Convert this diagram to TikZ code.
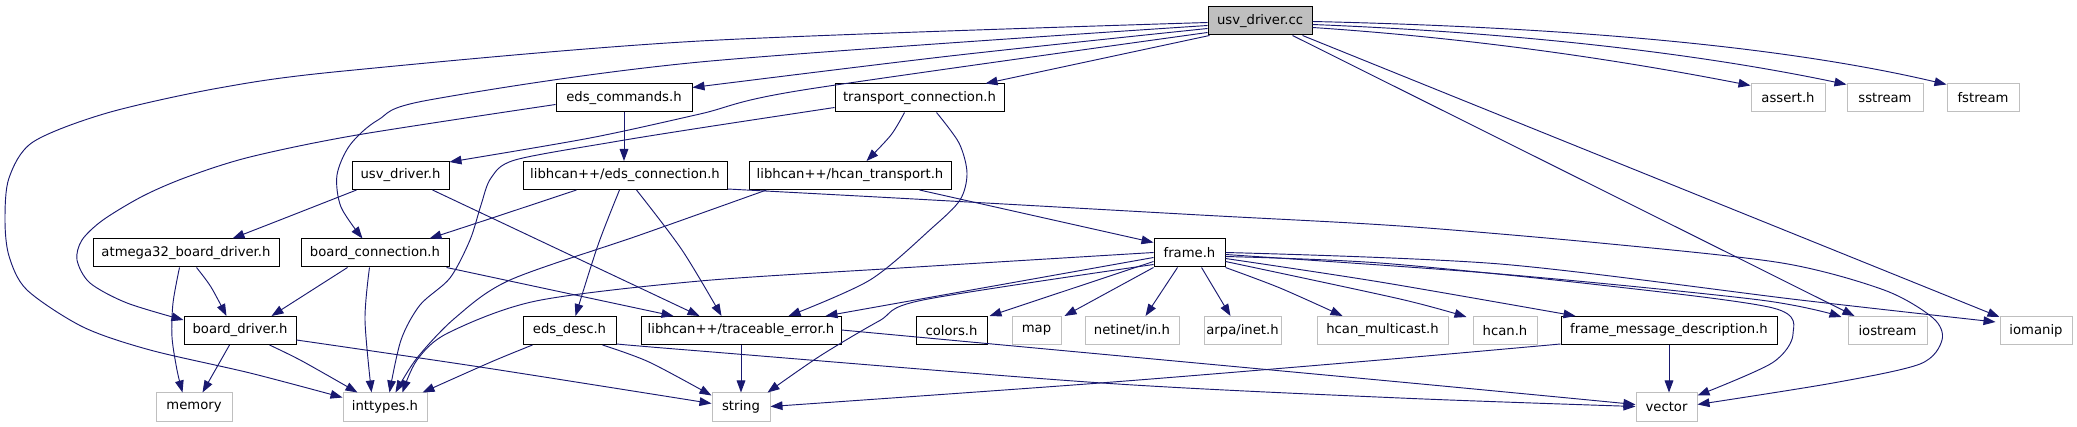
\documentclass[tikz,border=0pt]{standalone}
\usepackage{fontspec}
\setmainfont{DejaVu Sans}
\usetikzlibrary{arrows.meta,calc}
\definecolor{edgecol}{HTML}{191970}
\definecolor{graybox}{HTML}{BFBFBF}
\begin{document}
\begin{tikzpicture}[x=0.75pt,y=-0.75pt,
  box/.style={rectangle, inner sep=0pt, minimum height=21pt, line width=0.75pt,
     font=\fontsize{9.9pt}{12pt}\selectfont},
  doc/.style={box, draw=black},
  ext/.style={box, draw=graybox},
  bw/.style={minimum width=#1*0.75pt},
  dep/.style={draw=edgecol, line width=0.7pt, -{Triangle[length=9pt,width=6.5pt]}}]
\useasboundingbox[fill=white] (0,0) rectangle (2077,427);
% row 1
\node[doc, fill=graybox, bw=104] (usvcc) at (1260,21) {usv\_driver.cc};
% row 2
\node[doc, bw=136] (edscmd) at (624,98) {eds\_commands.h};
\node[doc, bw=169] (transp) at (919.5,98) {transport\_connection.h};
\node[ext, bw=74] (assert) at (1788,98) {assert.h};
\node[ext, bw=76] (sstream) at (1885,98) {sstream};
\node[ext, bw=72] (fstream) at (1983,98) {fstream};
% row 3
\node[doc, bw=97] (usvh) at (400.5,175.5) {usv\_driver.h};
\node[doc, bw=204] (edsconn) at (625,175.5) {libhcan++/eds\_connection.h};
\node[doc, bw=202] (hcantr) at (850,175.5) {libhcan++/hcan\_transport.h};
% row 4
\node[doc, bw=186] (atmega) at (186,253) {atmega32\_board\_driver.h};
\node[doc, bw=148] (boardconn) at (375,253) {board\_connection.h};
\node[doc, bw=71] (frame) at (1189.5,253) {frame.h};
% row 5
\node[doc, bw=112] (boarddrv) at (240,330.5) {board\_driver.h};
\node[doc, bw=93] (edsdesc) at (569.5,330.5) {eds\_desc.h};
\node[doc, bw=200] (trace) at (741,330.5) {libhcan++/traceable\_error.h};
\node[doc, bw=71] (colors) at (951.5,330.5) {colors.h};
\node[ext, bw=49] (map) at (1036.5,330.5) {map};
\node[ext, bw=94] (netinet) at (1132,330.5) {netinet/in.h};
\node[ext, bw=77] (arpa) at (1242.5,330.5) {arpa/inet.h};
\node[ext, bw=131] (mcast) at (1382.5,330.5) {hcan\_multicast.h};
\node[ext, bw=64] (hcan) at (1505,330.5) {hcan.h};
\node[doc, bw=216] (fmd) at (1669,330.5) {frame\_message\_description.h};
\node[ext, bw=79] (iostream) at (1887.5,330.5) {iostream};
\node[ext, bw=72] (iomanip) at (2036,330.5) {iomanip};
% row 6
\node[ext, bw=76] (memory) at (194,407) {memory};
\node[ext, bw=84] (inttypes) at (385,407) {inttypes.h};
\node[ext, bw=58] (string) at (741,407) {string};
\node[ext, bw=61] (vector) at (1666.5,407) {vector};

% edges from usv_driver.cc
\draw[dep] plot[smooth] coordinates {($(usvcc.north west)+(0,16)$) (700,41) (344,71) (219,88) (107,113) (33,142) (9,178) (5,220) (9,256) (27,290) (83,327) (150,350) (250,373) ($(inttypes.north west)+(0,5)$)};
\draw[dep] plot[smooth] coordinates {($(usvcc.north west)+(0,19)$) (700,62) (429,100) (378,120) (350,145) (337,175) (341,207) ($(boardconn.north west)+(62,0)$)};
\draw[dep] plot[smooth] coordinates {($(usvcc.north west)+(0,22)$) (950,56) ($(edscmd.north east)+(0,4)$)};
\draw[dep] plot[smooth] coordinates {($(usvcc.north west)+(0,26)$) (803,90) (700,114) (590,138) ($(usvh.north east)+(0,1)$)};
\draw[dep] ($(usvcc.south west)+(2,0)$) -- ($(transp.north east)+(-19,0)$);
\draw[dep] ($(usvcc.north east)+(0,15)$) .. controls (1600,28) and (1800,50) .. ($(fstream.north west)+(0,1)$);
\draw[dep] ($(usvcc.north east)+(0,18)$) .. controls (1550,34) and (1720,58) .. ($(sstream.north west)+(0,1)$);
\draw[dep] ($(usvcc.north east)+(0,21)$) .. controls (1500,40) and (1650,66) .. ($(assert.north west)+(0,2)$);
\draw[dep] ($(usvcc.south east)+(-20,0)$) -- ($(iostream.north west)+(7,0)$);
\draw[dep] ($(usvcc.south east)+(-10,0)$) -- ($(iomanip.north west)+(0,1)$);

% eds_commands.h
\draw[dep] plot[smooth] coordinates {($(edscmd.north west)+(0,21)$) (357,135) (250,157) (187,177) (143,196) (103,220) (82,240) (77,260) (90,283) (127,303) ($(boarddrv.north west)+(0,4)$)};
\draw[dep] (edscmd.south) -- (edscmd.south |- edsconn.north);

% transport_connection.h
\draw[dep] plot[smooth] coordinates {($(transp.south west)+(70,0)$) (891,135) ($(hcantr.north west)+(118,0)$)};
\draw[dep] plot[smooth] coordinates {($(transp.south west)+(102,0)$) (959,143) (967,173) (960,200) (932,228) (870,280) ($(trace.north west)+(148,0)$)};
\draw[dep] plot[smooth] coordinates {($(transp.north west)+(0,24)$) (700,128) (613,142) (515,160) (491,178) (481,205) (470,240) (450,278) (420,305) (401,340) ($(inttypes.north west)+(47,0)$)};

% usv_driver.h
\draw[dep] plot[smooth] coordinates {($(usvh.south west)+(5,0)$) (280,220) ($(atmega.north east)+(-47,0)$)};
\draw[dep] ($(usvh.south west)+(81,0)$) -- ($(trace.north west)+(59,0)$);

% libhcan++/eds_connection.h
\draw[dep] plot[smooth] coordinates {($(edsconn.south west)+(54,0)$) (480,222) ($(boardconn.north east)+(-20,0)$)};
\draw[dep] plot[smooth] coordinates {($(edsconn.south west)+(97,0)$) (598,245) ($(edsdesc.north west)+(53,0)$)};
\draw[dep] plot[smooth] coordinates {($(edsconn.south west)+(114,0)$) (682,250) ($(trace.north west)+(81,0)$)};
\draw[dep] plot[smooth] coordinates {($(edsconn.south east)+(0,-1)$) (914,199) (1200,215) (1400,226) (1600,243) (1782,263) (1884,290) (1933,318) (1942,340) (1920,364) (1833,383) ($(vector.south east)+(0,-17)$)};

% libhcan++/hcan_transport.h
\draw[dep] plot[smooth] coordinates {($(hcantr.south west)+(18,0)$) (640,235) (510,280) (455,318) (417,358) ($(inttypes.north west)+(53,0)$)};
\draw[dep] ($(hcantr.south east)+(-32,0)$) -- ($(frame.north west)+(0,4)$);

% atmega32_board_driver.h
\draw[dep] plot[smooth] coordinates {($(atmega.south west)+(87,0)$) (173,303) (172,337) (177,370) ($(memory.north west)+(27,0)$)};
\draw[dep] plot[smooth] coordinates {($(atmega.south west)+(104,0)$) (211,287) ($(boarddrv.north west)+(43,0)$)};

% board_connection.h
\draw[dep] ($(boardconn.south west)+(47,0)$) -- ($(boarddrv.north west)+(88,0)$);
\draw[dep] plot[smooth] coordinates {($(boardconn.south west)+(69,0)$) (365,320) ($(inttypes.north west)+(29,0)$)};
\draw[dep] ($(boardconn.south east)+(-3,0)$) -- ($(trace.north west)+(33,0)$);

% frame.h
\draw[dep] plot[smooth] coordinates {($(frame.north west)+(0,14)$) (900,268) (700,281) (536,301) (448,333) (417,360) ($(inttypes.north west)+(60,0)$)};
\draw[dep] ($(frame.north west)+(0,19)$) -- ($(trace.north east)+(-16,0)$);
\draw[dep] plot[smooth] coordinates {($(frame.north west)+(0,26)$) (923,300) (879,321) (820,356) ($(string.north east)+(-3,0)$)};
\draw[dep] ($(frame.north west)+(0,23)$) -- ($(colors.north east)+(2,0)$);
\draw[dep] (frame.south west) -- ($(map.north east)+(3,0)$);
\draw[dep] ($(frame.south west)+(24,0)$) -- ($(netinet.north west)+(61,0)$);
\draw[dep] ($(frame.south west)+(48,0)$) -- ($(arpa.north west)+(27,0)$);
\draw[dep] plot[smooth] coordinates {(frame.south east) (1280,288) ($(mcast.north west)+(26,0)$)};
\draw[dep] plot[smooth] coordinates {($(frame.north east)+(0,23)$) (1400,299) ($(hcan.north west)+(-6,1)$)};
\draw[dep] plot[smooth] coordinates {($(frame.north east)+(0,20)$) (1380,282) ($(fmd.north west)+(15,0)$)};
\draw[dep] plot[smooth] coordinates {($(frame.north east)+(0,16)$) (1500,274) (1760,300) ($(iostream.north west)+(-6,1)$)};
\draw[dep] plot[smooth] coordinates {($(frame.north east)+(0,14)$) (1500,264) (1800,300) ($(iomanip.north west)+(-4,6)$)};
\draw[dep] plot[smooth] coordinates {($(frame.north east)+(0,18)$) (1380,263) (1600,285) (1773,308) (1793,334) (1772,363) ($(vector.north east)+(0,3)$)};

% board_driver.h
\draw[dep] plot[smooth] coordinates {($(boarddrv.south west)+(46,0)$) (217,367) ($(memory.north west)+(47,0)$)};
\draw[dep] plot[smooth] coordinates {($(boarddrv.south west)+(86,0)$) (302,361) ($(inttypes.north west)+(15,0)$)};
\draw[dep] plot[smooth] coordinates {($(boarddrv.north east)+(0,24)$) (480,367) ($(string.north west)+(0,11)$)};

% eds_desc.h
\draw[dep] plot[smooth] coordinates {($(edsdesc.south west)+(10,0)$) (491,362) ($(inttypes.north east)+(-5,0)$)};
\draw[dep] plot[smooth] coordinates {($(edsdesc.south west)+(80,0)$) (649,362) ($(string.north west)+(0,3)$)};
\draw[dep] plot[smooth] coordinates {($(edsdesc.south east)+(0,-1)$) (700,351) (1102,383) (1400,398) ($(vector.north west)+(0,14)$)};

% libhcan++/traceable_error.h
\draw[dep] (trace.south) -- (trace.south |- string.north);
\draw[dep] plot[smooth] coordinates {($(trace.north east)+(0,14)$) (1400,382) ($(vector.north west)+(0,12)$)};

% frame_message_description.h
\draw[dep] (fmd.south) -- (fmd.south |- vector.north);
\draw[dep] plot[smooth] coordinates {($(fmd.south west)+(0,-1)$) (1380,360) (1100,383) ($(string.north east)+(0,14)$)};
\end{tikzpicture}
\end{document}
